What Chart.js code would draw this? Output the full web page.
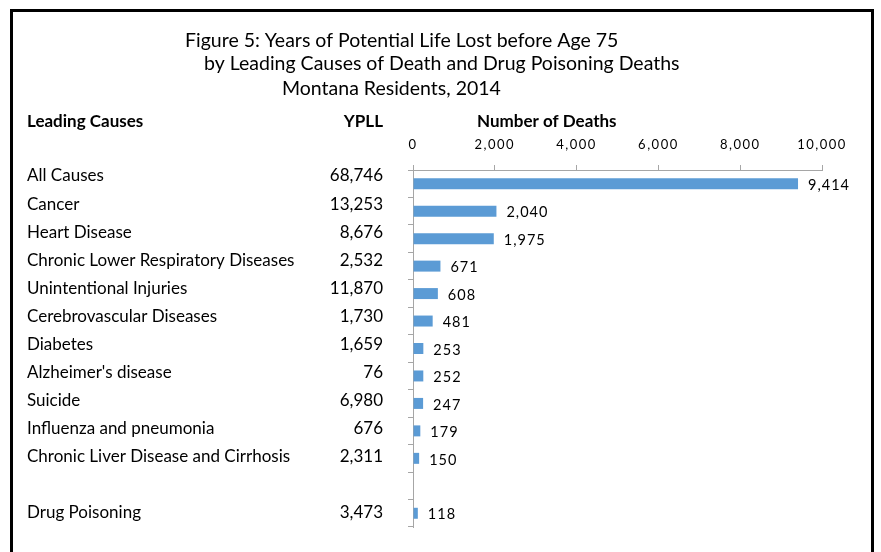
<!DOCTYPE html>
<html>
<head>
<meta charset="utf-8">
<script src="https://cdn.jsdelivr.net/npm/chart.js@4/dist/chart.umd.min.js"></script>
<style>
  html, body { margin: 0; padding: 0; background: #ffffff; }
  #wrap { position: relative; width: 881px; height: 552px; }
  canvas { display: block; }
</style>
</head>
<body>
<div id="wrap"><canvas id="chart" width="881" height="552"></canvas></div>
<script>
// Leading causes of death, Montana residents 2014 (blank row separates drug poisoning)
const causes = [
  'All Causes', 'Cancer', 'Heart Disease', 'Chronic Lower Respiratory Diseases',
  'Unintentional Injuries', 'Cerebrovascular Diseases', 'Diabetes', "Alzheimer's disease",
  'Suicide', 'Influenza and pneumonia', 'Chronic Liver Disease and Cirrhosis', '', 'Drug Poisoning'
];
// Years of potential life lost before age 75
const ypll = [68746, 13253, 8676, 2532, 11870, 1730, 1659, 76, 6980, 676, 2311, null, 3473];
// Number of deaths
const deaths = [9414, 2040, 1975, 671, 608, 481, 253, 252, 247, 179, 150, null, 118];
// Axis range for number of deaths
const deathAxisMin = 0;
const deathAxisMax = 10000;
const deathAxisStep = 2000;

const titleLines = [
  'Figure 5: Years of Potential Life Lost before Age 75',
  'by Leading Causes of Death and Drug Poisoning Deaths',
  'Montana Residents, 2014'
];
const headerCause = 'Leading Causes';
const headerYpll = 'YPLL';
const headerDeaths = 'Number of Deaths';

const FONT = 'Lato, "Open Sans", sans-serif';
const fmt = v => v.toLocaleString('en-US');

// Layout of the text table to the left of the bars
const layout = {
  titleX: [185, 204, 282],
  titleBaseline: [47, 70, 95],
  headerY: 122,
  causeX: 27,
  ypllRight: 383,
  deathsHeaderX: 477,
  rowTop: 176,
  rowStep: 28.07
};

const framePlugin = {
  id: 'frame',
  beforeDraw(chart) {
    const ctx = chart.ctx;
    ctx.save();
    ctx.fillStyle = '#000000';
    ctx.fillRect(10, 9, 864, 3);
    ctx.fillRect(10, 9, 3, 543);
    ctx.fillRect(871, 9, 3, 543);
    ctx.restore();
    ctx.letterSpacing = '1.5px';
  },
  afterDraw(chart) {
    chart.ctx.letterSpacing = '0px';
  }
};

const tablePlugin = {
  id: 'table',
  afterDatasetsDraw(chart) {
    const ctx = chart.ctx;
    ctx.save();
    ctx.letterSpacing = '0px';
    ctx.fillStyle = '#000000';
    ctx.textBaseline = 'alphabetic';
    ctx.textAlign = 'left';
    ctx.font = '19.5px ' + FONT;
    titleLines.forEach((t, i) => ctx.fillText(t, layout.titleX[i], layout.titleBaseline[i]));

    ctx.textBaseline = 'middle';
    ctx.font = 'bold 17px ' + FONT;
    ctx.fillText(headerCause, layout.causeX, layout.headerY);
    ctx.fillText(headerDeaths, layout.deathsHeaderX, layout.headerY);
    ctx.textAlign = 'right';
    ctx.fillText(headerYpll, layout.ypllRight, layout.headerY);

    ctx.font = '17px ' + FONT;
    causes.forEach((c, i) => {
      const y = layout.rowTop + i * layout.rowStep;
      ctx.textAlign = 'left';
      ctx.fillText(c, layout.causeX, y);
      if (ypll[i] != null) {
        ctx.textAlign = 'right';
        ctx.fillText(fmt(ypll[i]), layout.ypllRight, y);
      }
    });

    // value labels at the end of each bar
    const meta = chart.getDatasetMeta(0);
    ctx.font = '14.5px ' + FONT;
    ctx.letterSpacing = '1px';
    ctx.textAlign = 'left';
    meta.data.forEach((bar, i) => {
      if (deaths[i] == null) return;
      ctx.fillText(fmt(deaths[i]), bar.x + 10, bar.y + 1.5);
    });
    ctx.restore();
  }
};

function build() {
  new Chart(document.getElementById('chart'), {
    type: 'bar',
    data: {
      labels: causes,
      datasets: [{
        data: deaths,
        backgroundColor: '#5b9bd5',
        borderWidth: 0,
        categoryPercentage: 1,
        barPercentage: 0.4
      }]
    },
    options: {
      indexAxis: 'y',
      responsive: false,
      animation: false,
      layout: { padding: { left: 0, top: 0, right: 59, bottom: 25 } },
      plugins: { legend: { display: false }, tooltip: { enabled: false }, title: { display: false } },
      scales: {
        x: {
          position: 'top',
          min: deathAxisMin,
          max: deathAxisMax,
          ticks: {
            stepSize: deathAxisStep,
            padding: 12,
            color: '#000000',
            font: { family: FONT, size: 13 },
            callback: v => fmt(v)
          },
          grid: { drawOnChartArea: false, drawTicks: true, tickLength: 5, color: '#a6a6a6' },
          border: { display: true, color: '#a6a6a6' },
          afterFit: s => { s.height = 170; }
        },
        y: {
          ticks: { display: false },
          grid: { drawOnChartArea: false, drawTicks: true, tickLength: 5, color: '#a6a6a6', offset: true },
          border: { display: true, color: '#a6a6a6' },
          afterFit: s => { s.width = 413; }
        }
      }
    },
    plugins: [framePlugin, tablePlugin]
  });
}

Promise.all([
  document.fonts.load('17px Lato'),
  document.fonts.load('bold 17px Lato')
]).then(build, build);
</script>
</body>
</html>
